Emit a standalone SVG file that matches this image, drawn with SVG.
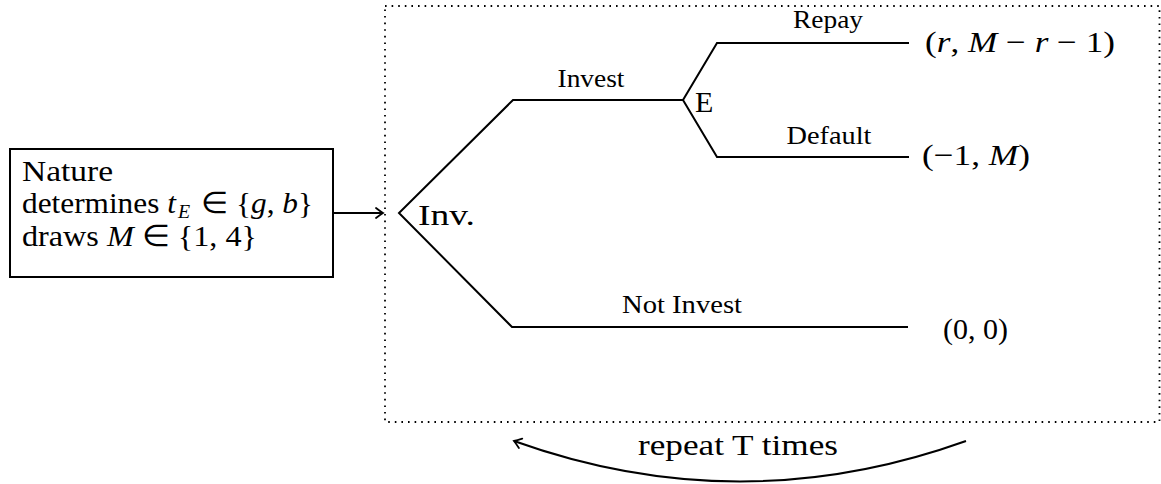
<svg xmlns="http://www.w3.org/2000/svg" width="1161" height="484" viewBox="0 0 1161 484">
<style>
  text { font-family: "Liberation Serif", "Times New Roman", Times, serif; fill: #000; }
  .big { font-size: 30px; }
  .lbl { font-size: 25px; }
  .it { font-style: italic; }
  .edge { fill: none; stroke: #000; stroke-width: 2; stroke-linejoin: miter; }
  .conn { fill: none; stroke: #000; stroke-width: 2; }
  .frame { fill: none; stroke: #000; stroke-width: 1.8; stroke-dasharray: 1.6 5; }
</style>
<defs>
  <marker id="arr" markerUnits="userSpaceOnUse" markerWidth="16" markerHeight="16" viewBox="-10 -8 12 16" refX="0" refY="0" orient="auto">
    <path d="M -7 -5 Q -2.5 -1.5 0 0 Q -2.5 1.5 -7 5" fill="none" stroke="#000" stroke-width="1.8" stroke-linecap="round"/>
  </marker>
</defs>

<rect class="frame" x="385" y="6" width="774.5" height="416"/>

<g id="nature">
  <rect x="10" y="149" width="323" height="128" fill="none" stroke="#000" stroke-width="2"/>
  <text class="big" x="22" y="181" textLength="91" lengthAdjust="spacingAndGlyphs">Nature</text>
  <text class="big" x="22" y="213" textLength="291" lengthAdjust="spacingAndGlyphs">determines <tspan class="it">t</tspan><tspan class="it" font-size="19" dy="5" dx="2">E</tspan><tspan dy="-5" dx="3"> ∈ {</tspan><tspan class="it">g</tspan>, <tspan class="it">b</tspan>}</text>
  <text class="big" x="22" y="246" textLength="235" lengthAdjust="spacingAndGlyphs">draws <tspan class="it">M</tspan> ∈ {1, 4}</text>
</g>

<g id="inv">
  <text class="big" x="418" y="225" textLength="57" lengthAdjust="spacingAndGlyphs">Inv.</text>
</g>

<g id="e">
  <text class="big" x="695" y="112">E</text>
</g>

<g id="payoff-repay">
  <text class="big" x="925" y="52" textLength="190" lengthAdjust="spacingAndGlyphs">(<tspan class="it">r</tspan>, <tspan class="it">M</tspan> − <tspan class="it">r</tspan> − 1)</text>
</g>
<g id="payoff-default">
  <text class="big" x="922" y="165" textLength="108" lengthAdjust="spacingAndGlyphs">(−1, <tspan class="it">M</tspan>)</text>
</g>
<g id="payoff-not">
  <text class="big" x="943" y="339" textLength="65" lengthAdjust="spacingAndGlyphs">(0, 0)</text>
</g>

<g id="connectors">
  <line class="conn" x1="333" y1="213" x2="383" y2="213" marker-end="url(#arr)"/>
  <polyline class="edge" points="683,100 513,100 399,213 512,327 908,327"/>
  <polyline class="edge" points="909,43 717,43 683,100 717,157 909,157"/>
  <path class="conn" d="M 966 441 Q 740 522 514 441" marker-end="url(#arr)"/>
  <text class="lbl" x="591" y="87" text-anchor="middle" textLength="67" lengthAdjust="spacingAndGlyphs">Invest</text>
  <text class="lbl" x="828" y="28" text-anchor="middle" textLength="70" lengthAdjust="spacingAndGlyphs">Repay</text>
  <text class="lbl" x="829" y="144" text-anchor="middle" textLength="85" lengthAdjust="spacingAndGlyphs">Default</text>
  <text class="lbl" x="682" y="313" text-anchor="middle" textLength="120" lengthAdjust="spacingAndGlyphs">Not Invest</text>
  <text class="big" x="738" y="455" text-anchor="middle" textLength="200" lengthAdjust="spacingAndGlyphs">repeat T times</text>
</g>
</svg>
